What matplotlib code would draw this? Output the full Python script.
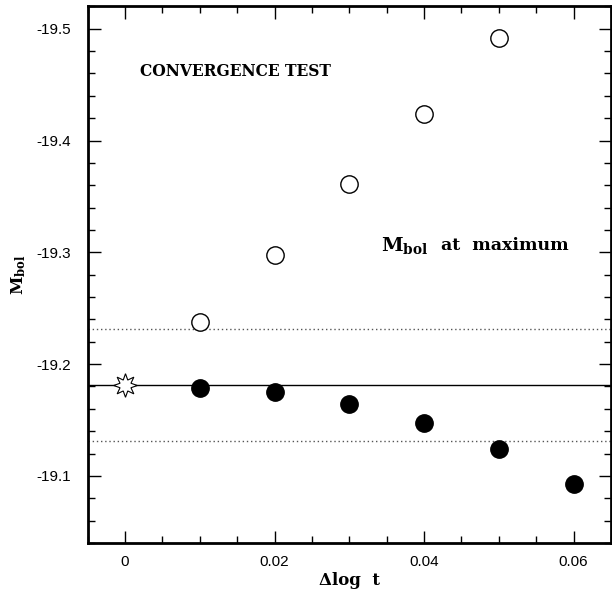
import matplotlib
matplotlib.use("Agg")
import matplotlib.pyplot as plt
from matplotlib.ticker import MultipleLocator, FixedLocator

# time step sizes and bolometric magnitude at maximum
dlogt_open = [0.01, 0.02, 0.03, 0.04, 0.05]
mbol_open = [-19.238, -19.298, -19.361, -19.424, -19.492]

dlogt_filled = [0.01, 0.02, 0.03, 0.04, 0.05, 0.06]
mbol_filled = [-19.179, -19.175, -19.164, -19.147, -19.124, -19.093]

# extrapolated value and its band
dlogt_star = [0.0]
mbol_star = [-19.181]
mbol_ref = -19.181
mbol_band = [-19.131, -19.231]

plt.rcParams['mathtext.fontset'] = 'dejavuserif'
plt.rcParams['axes.unicode_minus'] = False

fig = plt.figure(figsize=(6.12, 5.94), dpi=100)
ax = fig.add_axes([0.1433, 0.0859, 0.855, 0.9045])

ax.axhline(mbol_ref, color='black', lw=1.0, zorder=1)
for y in mbol_band:
    ax.axhline(y, color='#555555', lw=1.0, ls=(0, (1, 2)), zorder=1)

ax.plot(dlogt_open, mbol_open, 'o', ms=12.5, mfc='white', mec='black', mew=1.0, zorder=3)
ax.plot(dlogt_filled, mbol_filled, 'o', ms=12.5, mfc='black', mec='black', zorder=3)
ax.plot(dlogt_star, mbol_star, marker=(8, 1, 0), ms=17, mfc='white', mec='black', mew=0.8,
        ls='none', zorder=3)

ax.set_xlim(-0.005, 0.065)
ax.set_ylim(-19.04, -19.5206)

ax.xaxis.set_major_locator(FixedLocator([0, 0.02, 0.04, 0.06]))
ax.xaxis.set_minor_locator(MultipleLocator(0.005))
ax.yaxis.set_major_locator(MultipleLocator(0.1))
ax.yaxis.set_minor_locator(MultipleLocator(0.02))
ax.set_xticklabels(['0', '0.02', '0.04', '0.06'])

ax.tick_params(which='both', direction='in', top=True, right=True,
               labelsize=11, width=1.0)
ax.tick_params(axis='y', pad=12)
ax.tick_params(axis='x', pad=9)
ax.tick_params(which='major', length=9)
ax.tick_params(which='minor', length=5)
for lab in ax.get_xticklabels() + ax.get_yticklabels():
    lab.set_fontfamily('Liberation Sans')
for s in ax.spines.values():
    s.set_linewidth(2.0)

ax.set_xlabel('Δlog  t', fontsize=12, fontweight='bold', family='DejaVu Serif', labelpad=2)
ax.set_ylabel(r'$\mathbf{M}_{\mathsf{\mathbf{bol}}}$', fontsize=12, labelpad=6)

ax.text(0.002, -19.462, 'CONVERGENCE TEST', fontsize=11.2, fontweight='bold',
        family='DejaVu Serif', va='center', ha='left')
ax.text(0.0343, -19.306, r'$\mathbf{M}_{\mathsf{\mathbf{bol}}}$', fontsize=14,
        va='center', ha='left')
ax.text(0.0422, -19.3065, 'at  maximum', fontsize=12.5, fontweight='bold',
        family='DejaVu Serif', va='center', ha='left')

fig.savefig('out.png', dpi=100)
